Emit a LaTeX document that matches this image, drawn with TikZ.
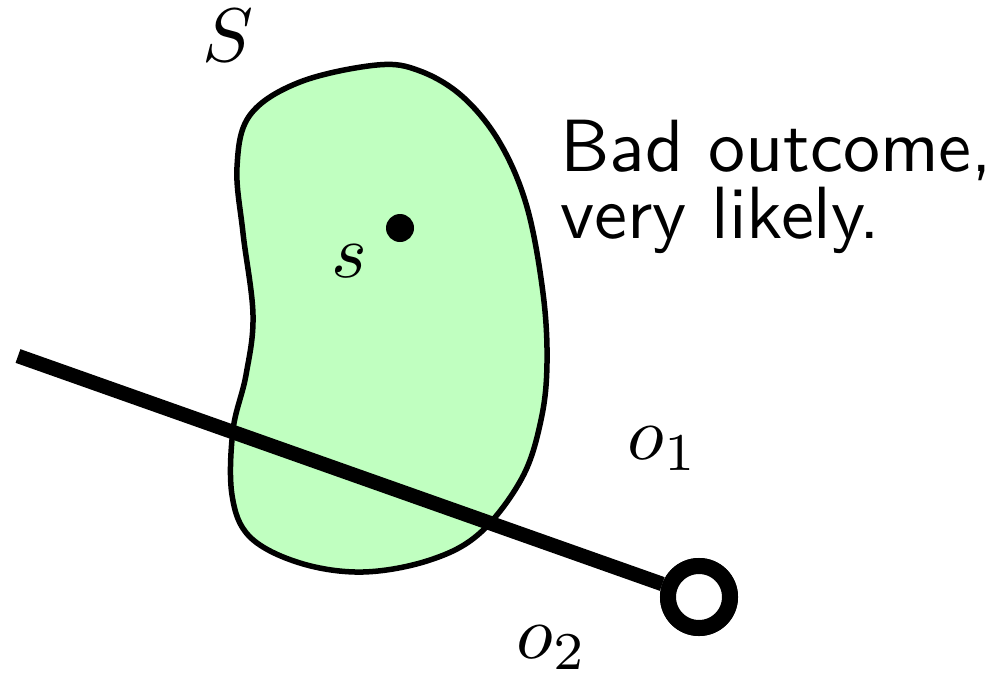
\documentclass[tikz,border=0pt]{standalone}
\definecolor{blobgreen}{RGB}{192,255,192}
\begin{document}
\begin{tikzpicture}[x=1pt,y=-1pt,
  blobline/.style={draw=black, line width=5.5pt, fill=blobgreen},
  pathline/.style={draw=black, line width=14.5pt},
  ringnode/.style={circle, draw=black, line width=16pt, fill=white, minimum size=62pt, inner sep=0pt},
  dotnode/.style={circle, fill=black, minimum size=28pt, inner sep=0pt},
  mathlbl/.style={inner sep=0pt, scale=7.6},
  textlbl/.style={inner sep=0pt, align=left, scale=7.4, font=\fontsize{10}{8.95}\selectfont\sffamily}]
\useasboundingbox (0,0) rectangle (996,675);
\draw[blobline] plot[smooth cycle, tension=0.6] coordinates {
  (377,65) (420,71) (463,97) (500,143) (527,207) (543,293) (547,363)
  (541,420) (522,478) (480,533) (430,560) (363,572) (300,563)
  (250,537) (232,495) (233,430) (246,375) (253,315)
  (243,233) (237,167) (250,115) (300,82)};
\node[ringnode] (ring) at (699,597) {};
\coordinate (L) at (18,356);
\draw[pathline] (L) -- (ring);
\node[ringnode] at (ring.center) {};
\node[dotnode] (dot) at (400,228) {};
\node[mathlbl, anchor=base] (Slbl) at (228,61) {$S$};
\node[mathlbl, anchor=base] (slbl) at (349,277) {$s$};
\node[mathlbl, anchor=base west] (o1) at (626,459) {$o_1$};
\node[mathlbl, anchor=base west] (o2) at (515,658) {$o_2$};
\node[textlbl, anchor=base west] (bad) at (559,238) {Bad outcome,\\very likely.};
\end{tikzpicture}
\end{document}
